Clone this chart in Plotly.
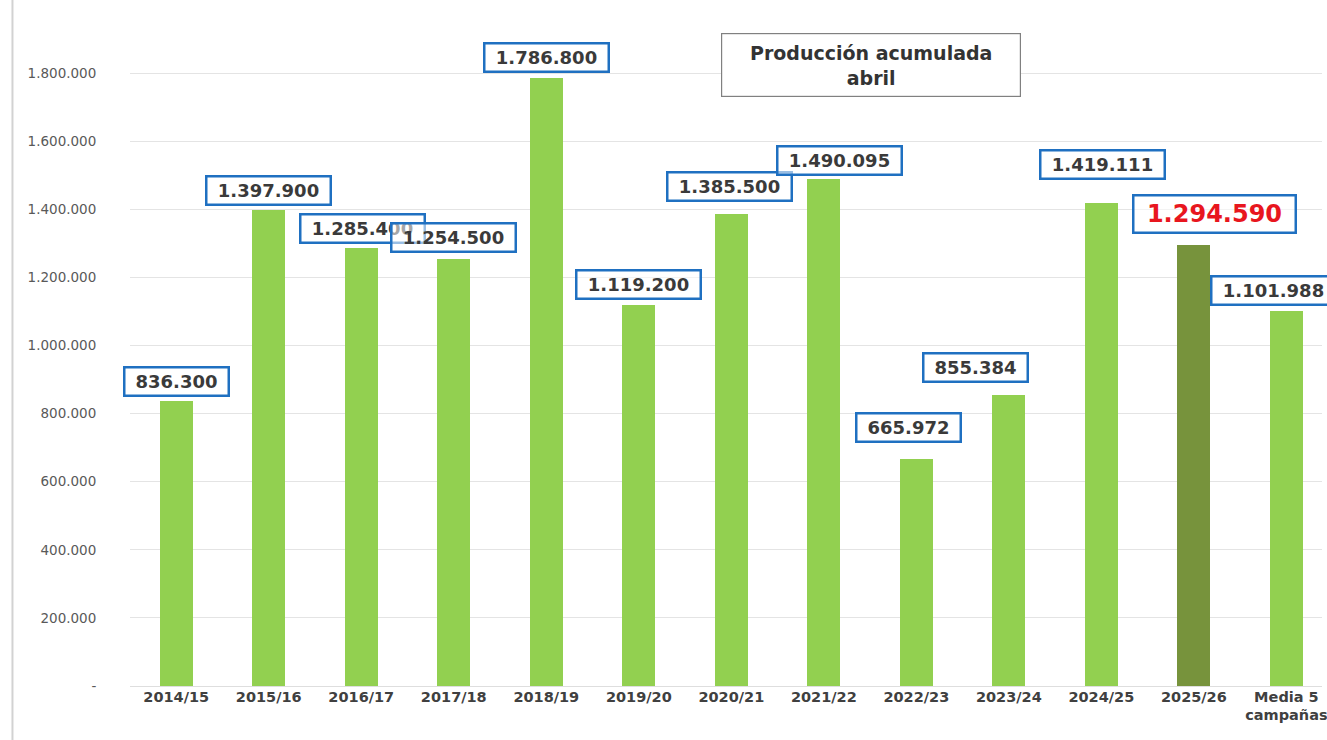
import plotly.graph_objects as go

# ---- data ----
campaigns = ["2014/15", "2015/16", "2016/17", "2017/18", "2018/19", "2019/20",
             "2020/21", "2021/22", "2022/23", "2023/24", "2024/25", "2025/26",
             "Media 5<br>campañas"]
production = [836300, 1397900, 1285400, 1254500, 1786800, 1119200,
              1385500, 1490095, 665972, 855384, 1419111, 1294590, 1101988]
y_ticks = [0, 200000, 400000, 600000, 800000, 1000000, 1200000, 1400000,
           1600000, 1800000, 2000000]
title_text = "Producción acumulada<br>abril"
highlight = "2025/26"

# ---- styles ----
GREEN = "#92d050"
DARK_GREEN = "#77933c"
BLUE = "#1f70c1"

# label offsets (pixels) relative to bar centre / bar top
label_dx = [0, 0, 1, 0, 0, 0, -2, 16, -8, -33, 1, 21, -13]
label_dy = [20, 20, 20, 21, 20, 20, 28, 18, 32, 27, 38, 31, 20]


def fmt(v):
    return "-" if v == 0 else f"{v:,}".replace(",", ".")


colors = [DARK_GREEN if c == highlight else GREEN for c in campaigns]

fig = go.Figure()
fig.add_trace(go.Bar(
    x=campaigns, y=production, marker=dict(color=colors, line=dict(width=0)),
    width=0.355, hoverinfo="skip"))

annotations = []
for i, (c, v) in enumerate(zip(campaigns, production)):
    txt = fmt(v)
    if c == highlight:
        annotations.append(dict(
            x=c, y=v, text=txt, showarrow=False, xshift=label_dx[i], yshift=label_dy[i],
            font=dict(family="DejaVu Sans", size=24, color="#e8161e", weight="bold"),
            bordercolor=BLUE, borderwidth=2.5, borderpad=0, bgcolor="rgba(255,255,255,0.55)",
            width=160, height=35))
    else:
        annotations.append(dict(
            x=c, y=v, text=txt, showarrow=False, xshift=label_dx[i], yshift=label_dy[i],
            font=dict(family="DejaVu Sans", size=18, color="#3a3a3a", weight="bold"),
            bordercolor=BLUE, borderwidth=2.5, borderpad=0, bgcolor="rgba(255,255,255,0.55)",
            width=10 * len(txt) + 32, height=26))

annotations.append(dict(
    xref="paper", yref="paper", x=0.6216, y=0.9113, xanchor="center", yanchor="middle",
    text=title_text, showarrow=False,
    font=dict(family="DejaVu Sans", size=19, color="#333333", weight="bold"),
    bordercolor="#808080", borderwidth=1.2, borderpad=0, bgcolor="white",
    width=298, height=62))

fig.update_layout(
    width=1327, height=740,
    margin=dict(l=130, r=0, t=4.5, b=53.5),
    paper_bgcolor="white", plot_bgcolor="white",
    showlegend=False, bargap=0,
    annotations=annotations,
    xaxis=dict(
        range=[-0.5, 12.385], showgrid=False, zeroline=False, showline=False,
        ticks="", tickfont=dict(family="DejaVu Sans", size=14.5, color="#404040", weight="bold"),
        fixedrange=True),
    yaxis=dict(
        range=[0, 2000000], tickvals=y_ticks, ticktext=[fmt(t) for t in y_ticks],
        showgrid=True, gridcolor="#e4e4e4", gridwidth=1, zeroline=True,
        zerolinecolor="#dedede", zerolinewidth=1, showline=False,
        ticks="outside", ticklen=30, tickcolor="rgba(0,0,0,0)",
        tickfont=dict(family="DejaVu Sans", size=13.5, color="#595959"),
        fixedrange=True),
    shapes=[dict(type="line", xref="paper", yref="paper",
                 x0=-0.0986, x1=-0.0986, y0=-0.08, y1=1.01,
                 line=dict(color="#d2d2d2", width=2))],
)

fig.write_html(
    "out.html", config={"displayModeBar": False},
    post_script="document.body.style.margin='0';document.body.style.overflow='hidden';")
